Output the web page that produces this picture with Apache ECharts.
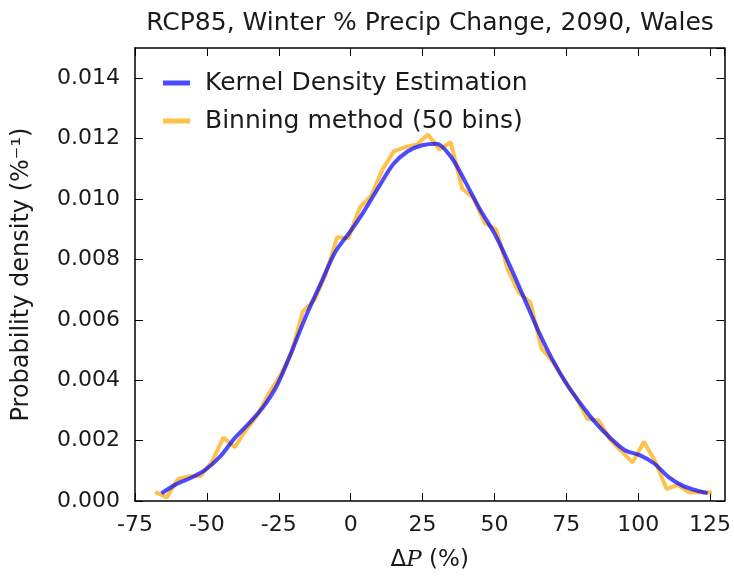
<!DOCTYPE html>
<html><head><meta charset="utf-8">
<script src="https://cdn.jsdelivr.net/npm/echarts@6/dist/echarts.min.js"></script>
<style>html,body{margin:0;padding:0;background:#fff}#c{width:734px;height:577px}</style>
</head><body><div id="c"></div>
<script>
const titleText = 'RCP85, Winter % Precip Change, 2090, Wales';
const kdeName = 'Kernel Density Estimation';
const binName = 'Binning method (50 bins)';

const binCenters = [-68.0,-64.0,-60.1,-56.1,-52.2,-48.2,-44.3,-40.3,-36.4,-32.4,
  -28.5,-24.5,-20.6,-16.6,-12.6,-8.7,-4.7,-0.8,3.2,7.1,
  11.1,15.0,19.0,22.9,26.9,30.9,34.8,38.8,42.7,46.7,
  50.6,54.6,58.5,62.5,66.4,70.4,74.3,78.3,82.3,86.2,
  90.2,94.1,98.1,102.0,106.0,109.9,113.9,117.8,121.8,125.7];
const binDensity = [0.00030,0.00012,0.00072,0.00082,0.00083,0.00130,0.00210,0.00178,0.00235,0.00285,
  0.00355,0.00415,0.00490,0.00628,0.00665,0.00750,0.00873,0.00870,0.00972,0.01010,
  0.01098,0.01158,0.01172,0.01180,0.01214,0.01164,0.01188,0.01035,0.01003,0.00920,
  0.00900,0.00768,0.00690,0.00658,0.00505,0.00460,0.00400,0.00345,0.00272,0.00267,
  0.00205,0.00165,0.00128,0.00196,0.00130,0.00040,0.00053,0.00028,0.00030,0.00028];

const kdeX = [-65.8,-60.8,-55.7,-50.7,-45.6,-40.6,-35.6,-30.5,-25.5,-20.5,
  -15.4,-10.4,-5.3,-0.3,4.7,9.8,14.8,19.9,24.9,29.9,
  35.0,40.0,45.0,50.1,55.1,60.2,65.2,70.2,75.3,80.3,
  85.3,90.4,95.4,100.5,105.5,110.5,115.6,120.6,124.2];
const kdeY = [0.00025,0.00055,0.00076,0.00102,0.00145,0.00205,0.00255,0.00310,0.00385,0.00495,
  0.00615,0.00720,0.00825,0.00890,0.00960,0.01040,0.01115,0.01158,0.01178,0.01183,
  0.01138,0.01055,0.00965,0.00885,0.00785,0.00675,0.00565,0.00468,0.00385,0.00318,
  0.00258,0.00208,0.00168,0.00152,0.00125,0.00080,0.00050,0.00034,0.00026];

const xTickLabels = [-75,-50,-25,0,25,50,75,100,125];
const yTickLabels = ['0.000','0.002','0.004','0.006','0.008','0.010','0.012','0.014'];

const FONT = 'DejaVu Sans';
const TXT = '#1a1a1a';
const chart = echarts.init(document.getElementById('c'), null, {renderer:'canvas'});

const axisCommon = {
  axisLine:{show:true,onZero:false,lineStyle:{color:'#000',width:1.5}},
  axisTick:{show:true,inside:true,length:8,lineStyle:{color:'#000',width:1}},
  splitLine:{show:false}
};
const xBase = Object.assign({type:'value',min:-75,max:130,interval:25}, axisCommon);
const yBase = Object.assign({type:'value',min:0,max:0.015,interval:0.002}, axisCommon);

chart.setOption({
  animation:false,
  backgroundColor:'#fff',
  grid:{left:135,right:9,top:48,bottom:74,containLabel:false},
  graphic:[{type:'text',x:430,y:23,style:{text:titleText,fill:TXT,font:'25px "DejaVu Sans"',align:'center',verticalAlign:'middle'}}],
  legend:{
    orient:'vertical',left:158,top:64,itemWidth:27,itemHeight:5,itemGap:10,icon:'rect',
    data:[kdeName,binName],
    textStyle:{fontFamily:FONT,fontSize:25,color:TXT,lineHeight:28,padding:[0,0,0,10]}
  },
  xAxis:[
    Object.assign({}, xBase, {position:'bottom',
      axisLabel:{show:true,margin:13,fontFamily:FONT,fontSize:22,color:TXT,showMaxLabel:false,
        formatter:v=> xTickLabels.indexOf(v)>=0 ? String(v) : ''},
      name:'{d|Δ}{i|P}{d| (%)}',nameLocation:'middle',nameGap:48,
      nameTextStyle:{rich:{d:{fontFamily:FONT,fontSize:23,color:TXT},i:{fontFamily:'DejaVu Serif',fontStyle:'italic',fontSize:23,color:TXT}}}
    }),
    Object.assign({}, xBase, {position:'top',axisLabel:{show:false}})
  ],
  yAxis:[
    Object.assign({}, yBase, {position:'left',
      axisLabel:{show:true,margin:15,fontFamily:FONT,fontSize:22,color:TXT,showMaxLabel:false,
        formatter:v=>{const s=v.toFixed(3); return yTickLabels.indexOf(s)>=0?s:'';}},
      name:'Probability density (%⁻¹)',nameLocation:'middle',nameGap:101,nameRotate:90,
      nameTextStyle:{fontFamily:FONT,fontSize:24,color:TXT}
    }),
    Object.assign({}, yBase, {position:'right',axisLabel:{show:false}})
  ],
  series:[
    {name:binName,type:'line',xAxisIndex:0,yAxisIndex:0,symbol:'none',smooth:false,
      lineStyle:{color:'rgba(255,165,0,0.7)',width:4},itemStyle:{color:'rgba(255,165,0,0.7)'},
      data:binCenters.map((x,i)=>[x,binDensity[i]]),z:2},
    {name:kdeName,type:'line',xAxisIndex:0,yAxisIndex:0,symbol:'none',smooth:0.3,
      lineStyle:{color:'rgba(0,0,255,0.7)',width:4},itemStyle:{color:'rgba(0,0,255,0.7)'},
      data:kdeX.map((x,i)=>[x,kdeY[i]]),z:3}
  ]
});
</script></body></html>
